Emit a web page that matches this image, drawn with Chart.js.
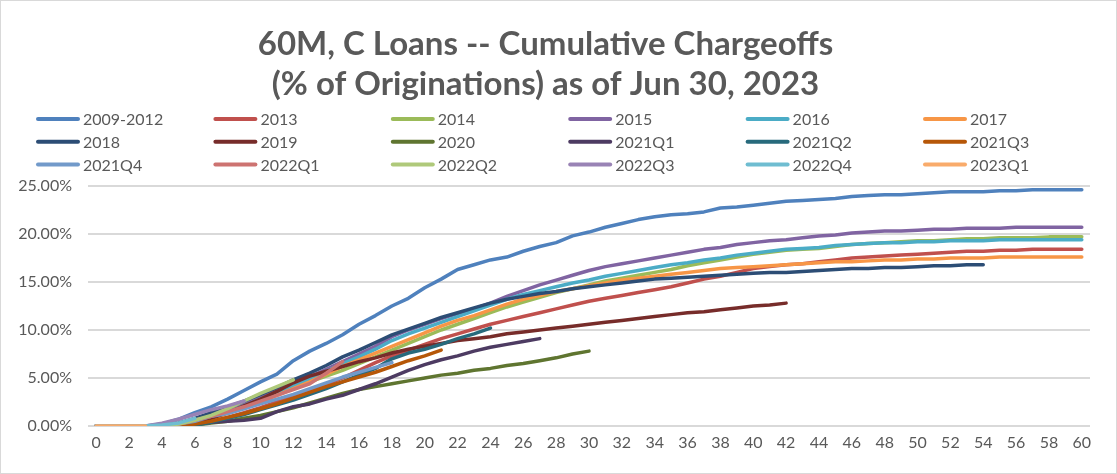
<!DOCTYPE html>
<html><head><meta charset="utf-8">
<script src="https://cdn.jsdelivr.net/npm/chart.js@4.4.0/dist/chart.umd.min.js"></script>
<style>
html,body{margin:0;padding:0;background:#fff;}
#wrap{position:relative;width:1115px;height:472px;border:1px solid #d9d9d9;background:#fff;}
canvas{display:block;}
</style></head><body>
<div id="wrap"><canvas id="c" width="1115" height="472"></canvas></div>
<script>
const months = ["0","1","2","3","4","5","6","7","8","9","10","11","12","13","14","15","16","17","18","19","20","21","22","23","24","25","26","27","28","29","30","31","32","33","34","35","36","37","38","39","40","41","42","43","44","45","46","47","48","49","50","51","52","53","54","55","56","57","58","59","60"];
const seriesNames = ["2009-2012","2013","2014","2015","2016","2017","2018","2019","2020","2021Q1","2021Q2","2021Q3","2021Q4","2022Q1","2022Q2","2022Q3","2022Q4","2023Q1"];
const seriesColors = ["#4F81BD","#C0504D","#9BBB59","#8064A2","#4BACC6","#F79646","#2C4D75","#772C2A","#5F7530","#4D3B62","#276A7C","#B65708","#729ACA","#CD7371","#AFC97A","#9983B5","#6FBDD1","#F9AB6B"];

const s2009_2012 = [0,0,0,0,0.2,0.7,1.4,2.0,2.8,3.7,4.6,5.4,6.8,7.8,8.6,9.5,10.6,11.5,12.5,13.3,14.4,15.3,16.3,16.8,17.3,17.6,18.2,18.7,19.1,19.8,20.2,20.7,21.1,21.5,21.8,22.0,22.1,22.3,22.7,22.8,23.0,23.2,23.4,23.5,23.6,23.7,23.9,24.0,24.1,24.1,24.2,24.3,24.4,24.4,24.4,24.5,24.5,24.6,24.6,24.6,24.6];
const s2013 = [0,0,0,0,0,0,0.2,0.5,0.9,1.4,1.9,2.5,3.0,3.6,4.3,5.0,5.8,6.6,7.3,7.9,8.5,9.1,9.6,10.1,10.6,11.0,11.4,11.8,12.2,12.6,13.0,13.3,13.6,13.9,14.2,14.5,14.9,15.3,15.6,16.0,16.4,16.6,16.8,16.9,17.1,17.3,17.5,17.6,17.7,17.8,17.9,18.0,18.1,18.2,18.2,18.3,18.3,18.4,18.4,18.4,18.4];
const s2014 = [0,0,0,0,0,0.2,0.6,1.1,1.6,2.2,2.8,3.4,4.0,4.6,5.2,5.8,6.5,7.2,7.9,8.6,9.3,10.0,10.6,11.2,11.8,12.4,12.9,13.4,13.9,14.3,14.7,15.1,15.4,15.7,16.0,16.3,16.7,17.0,17.3,17.6,17.9,18.1,18.3,18.4,18.5,18.7,18.9,19.0,19.1,19.2,19.3,19.3,19.4,19.5,19.5,19.6,19.6,19.6,19.7,19.7,19.7];
const s2015 = [0,0,0,0,0,0.2,0.6,1.1,1.7,2.3,3.0,3.7,4.4,5.1,5.9,6.7,7.5,8.3,9.3,10.0,10.6,11.2,11.7,12.2,12.8,13.5,14.1,14.7,15.2,15.7,16.2,16.6,16.9,17.2,17.5,17.8,18.1,18.4,18.6,18.9,19.1,19.3,19.4,19.6,19.8,19.9,20.1,20.2,20.3,20.3,20.4,20.5,20.5,20.6,20.6,20.6,20.7,20.7,20.7,20.7,20.7];
const s2016 = [0,0,0,0,0,0.1,0.4,0.9,1.5,2.1,2.8,3.5,4.2,4.9,5.7,6.5,7.2,8.0,8.9,9.6,10.2,10.8,11.4,12.0,12.6,13.2,13.7,14.1,14.5,14.9,15.2,15.6,15.9,16.2,16.5,16.8,17.0,17.3,17.5,17.8,18.0,18.2,18.4,18.5,18.6,18.8,18.9,19.0,19.1,19.1,19.2,19.2,19.3,19.3,19.3,19.4,19.4,19.4,19.4,19.4,19.4];
const s2017 = [0,0,0,0,0,0.1,0.4,0.8,1.3,1.9,2.5,3.2,3.9,4.6,5.4,6.2,6.9,7.6,8.3,9.0,9.7,10.4,11.0,11.5,12.1,12.7,13.2,13.6,14.0,14.3,14.6,14.9,15.2,15.4,15.6,15.8,16.0,16.2,16.4,16.5,16.6,16.7,16.8,16.9,17.0,17.1,17.1,17.2,17.3,17.3,17.4,17.4,17.5,17.5,17.5,17.6,17.6,17.6,17.6,17.6,17.6];
const s2018 = [0,0,0,0,0,0.3,0.8,1.4,2.0,2.6,3.3,4.0,4.8,5.5,6.3,7.2,7.9,8.7,9.5,10.1,10.7,11.3,11.8,12.3,12.8,13.2,13.5,13.8,14.0,14.3,14.5,14.7,14.9,15.1,15.3,15.4,15.5,15.6,15.7,15.8,15.9,16.0,16.0,16.1,16.2,16.3,16.4,16.4,16.5,16.5,16.6,16.7,16.7,16.8,16.8];
const s2019 = [0,0,0,0,0,0,0.3,0.8,1.4,2.1,2.8,3.6,4.5,5.2,5.7,6.2,6.7,7.1,7.6,8.0,8.3,8.6,8.9,9.1,9.3,9.6,9.8,10.0,10.2,10.4,10.6,10.8,11.0,11.2,11.4,11.6,11.8,11.9,12.1,12.3,12.5,12.6,12.8];
const s2020 = [0,0,0,0,0,0,0.1,0.3,0.5,0.8,1.1,1.5,1.9,2.4,2.9,3.4,3.8,4.1,4.4,4.7,5.0,5.3,5.5,5.8,6.0,6.3,6.5,6.8,7.1,7.5,7.8];
const s2021Q1 = [0,0,0,0,0,0,0.2,0.4,0.5,0.6,0.8,1.5,2.0,2.3,2.8,3.2,3.8,4.4,5.1,5.8,6.4,6.9,7.3,7.8,8.2,8.5,8.8,9.1];
const s2021Q2 = [0,0,0,0,0,0,0.1,0.4,0.8,1.2,1.7,2.2,2.7,3.3,3.9,4.6,5.3,6.0,7.0,7.6,8.0,8.5,9.1,9.6,10.2];
const s2021Q3 = [0,0,0,0,0,0,0.2,0.5,0.9,1.3,1.8,2.3,2.9,3.5,4.1,4.6,5.1,5.6,6.2,6.8,7.3,7.9];
const s2021Q4 = [0,0,0,0,0,0.2,0.5,1.0,1.3,1.8,2.3,2.8,3.3,3.9,4.5,5.1,5.6,6.1,6.6];
const s2022Q1 = [0,0,0,0,0,0.2,0.6,1.0,1.5,2.0,2.6,3.2,3.8,4.4,5.5,6.7];
const s2022Q2 = [0,0,0,0,0,0.2,0.6,1.1,1.8,2.6,3.4,4.1,4.8];
const s2022Q3 = [0,0,0,0,0.3,0.7,1.2,1.7,2.1,2.6];
const s2022Q4 = [0,0,0,0,0.1,0.3,0.8];
const s2023Q1 = [0,0,0,0];

const yTicks = [0,5,10,15,20,25];
const titleLines = ["60M, C Loans -- Cumulative Chargeoffs","(% of Originations) as of Jun 30, 2023"];

const allSeries = [s2009_2012,s2013,s2014,s2015,s2016,s2017,s2018,s2019,s2020,s2021Q1,s2021Q2,s2021Q3,s2021Q4,s2022Q1,s2022Q2,s2022Q3,s2022Q4,s2023Q1];

const gridLegend = {
  id: 'gridLegend',
  afterDraw(chart) {
    const ctx = chart.ctx;
    ctx.save();
    ctx.font = '16px Lato';
    ctx.textBaseline = 'middle';
    ctx.textAlign = 'left';
    chart.data.datasets.forEach((ds, i) => {
      const col = i % 6, row = Math.floor(i / 6);
      const x = 35 + col * 177.4, y = 118 + row * 22.7;
      ctx.strokeStyle = ds.borderColor;
      ctx.lineWidth = 4;
      ctx.lineCap = 'round';
      ctx.beginPath(); ctx.moveTo(x + 2, y); ctx.lineTo(x + 42, y); ctx.stroke();
      ctx.fillStyle = '#595959';
      ctx.fillText(ds.label, x + 47, y + 1);
    });
    ctx.restore();
  }
};

Chart.defaults.font.family = 'Lato';
const n = allSeries.length;
new Chart(document.getElementById('c'), {
  type: 'line',
  data: {
    labels: months,
    datasets: allSeries.map((d, i) => ({
      label: seriesNames[i],
      data: d,
      borderColor: seriesColors[i],
      backgroundColor: seriesColors[i],
      order: n - i
    }))
  },
  options: {
    responsive: false,
    animation: false,
    devicePixelRatio: 1,
    layout: { padding: { left: 0, right: 26, top: 0, bottom: 0 } },
    elements: {
      line: { borderWidth: 3.5, tension: 0, borderCapStyle: 'round', borderJoinStyle: 'round', fill: false },
      point: { radius: 0, hoverRadius: 0 }
    },
    plugins: {
      legend: { display: false },
      tooltip: { enabled: false },
      title: {
        display: true,
        text: titleLines,
        color: '#595959',
        font: { family: 'Lato', size: 33, weight: 'bold', lineHeight: 1.212 },
        padding: { top: 23, bottom: 82 }
      }
    },
    scales: {
      x: {
        type: 'category',
        offset: true,
        grid: { display: false, drawTicks: false },
        border: { display: false },
        ticks: {
          autoSkip: false, maxRotation: 0, minRotation: 0, padding: 7,
          color: '#595959', font: { size: 16 },
          callback: function(v, i) { return i % 2 === 0 ? months[i] : ''; }
        },
        afterFit(s) { s.height = 47; }
      },
      y: {
        min: 0, max: 25,
        afterBuildTicks(s) { s.ticks = yTicks.map(v => ({ value: v })); },
        grid: { color: '#d9d9d9', lineWidth: 2, drawTicks: false },
        border: { display: false },
        ticks: {
          padding: 16, color: '#595959', font: { size: 16 },
          callback: v => v.toFixed(2) + '%'
        },
        afterFit(s) { s.width = 87; }
      }
    }
  },
  plugins: [gridLegend]
});
</script>
</body></html>
